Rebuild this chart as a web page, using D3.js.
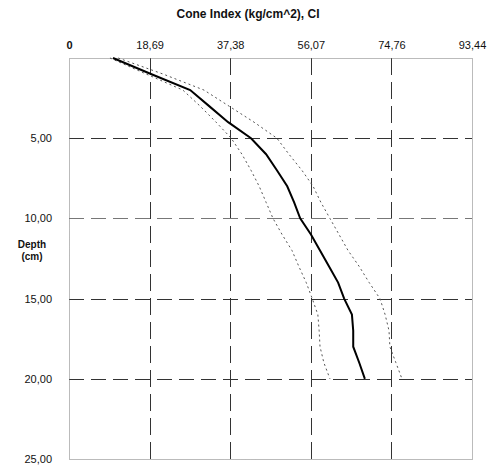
<!DOCTYPE html>
<html>
<head>
<meta charset="utf-8">
<script src="https://cdn.jsdelivr.net/npm/d3@7/dist/d3.min.js"></script>
<style>
  html, body { margin: 0; padding: 0; background: #fff; }
  svg { display: block; }
  text { font-family: "Liberation Sans", Arial, sans-serif; fill: #111; }
</style>
</head>
<body>
<svg id="chart" width="487" height="470"></svg>
<script>
// ---- data ----
const depths = [0,1,2,3,4,5,6,7,8,9,10,11,12,13,14,15,16,17,18,19,20];
const meanCI = [10.2,19.0,28.1,32.5,36.9,42.2,45.7,48.2,50.6,52.2,53.6,56.1,58.2,60.3,62.4,63.8,65.6,65.9,65.9,67.3,68.6];
const upperCI = [11.4,21.8,31.3,37.1,42.9,48.2,51.0,54.0,56.6,58.4,60.5,62.6,64.7,67.3,69.6,72.1,73.3,74.2,74.4,75.8,77.2];
const lowerCI = [9.5,17.9,26.4,30.4,34.1,37.6,40.1,42.2,44.1,45.7,47.3,49.4,51.7,53.3,55.0,56.4,57.7,58.0,58.2,59.1,60.5];
const xTickValues = [0, 18.69, 37.38, 56.07, 74.76, 93.44];
const xTickLabels = ["0", "18,69", "37,38", "56,07", "74,76", "93,44"];
const yTickValues = [5, 10, 15, 20, 25];
const yTickLabels = ["5,00", "10,00", "15,00", "20,00", "25,00"];
const title = "Cone Index (kg/cm^2), CI";
const yTitle = ["Depth", "(cm)"];

// ---- layout ----
const svg = d3.select("#chart");
const L = 69, R = 472, T = 58, B = 459;
const x = d3.scaleLinear().domain([0, 93.44]).range([L, R]);
const y = d3.scaleLinear().domain([0, 25]).range([T, B]);

// grid lines
const g = svg.append("g");
g.selectAll("line.vg").data(xTickValues.slice(1, -1)).join("line")
  .attr("class", "vg")
  .attr("x1", d => Math.round(x(d)) + 0.5).attr("x2", d => Math.round(x(d)) + 0.5)
  .attr("y1", T).attr("y2", B)
  .attr("stroke", "#333").attr("stroke-width", 1).attr("stroke-dasharray", "17,7");
g.selectAll("line.hg").data(yTickValues.slice(0, -1)).join("line")
  .attr("class", "hg")
  .attr("x1", L).attr("x2", R)
  .attr("y1", d => Math.round(y(d)) + 0.5).attr("y2", d => Math.round(y(d)) + 0.5)
  .attr("stroke", d => d === 10 ? "#777" : "#333").attr("stroke-width", 1).attr("stroke-dasharray", "15,7");

// border (dotted)
svg.append("rect")
  .attr("x", L + 0.5).attr("y", T + 0.5).attr("width", R - L).attr("height", B - T)
  .attr("fill", "none").attr("stroke", "#777").attr("stroke-width", 1).attr("stroke-dasharray", "1,1");

// axes text via d3 axes
const xAxis = d3.axisTop(x).tickValues(xTickValues)
  .tickFormat((d, i) => xTickLabels[i]).tickSize(0).tickPadding(0);
const xa = svg.append("g").attr("transform", `translate(0,${49})`).call(xAxis);
xa.select(".domain").remove();
xa.selectAll("text").attr("font-size", 11).attr("font-family", "Liberation Sans, Arial, sans-serif")
  .attr("fill", "#111").attr("dy", 0)
  .attr("font-weight", (d, i) => i === 0 ? "bold" : "normal");

const yAxis = d3.axisLeft(y).tickValues(yTickValues)
  .tickFormat((d, i) => yTickLabels[i]).tickSize(0).tickPadding(17);
const ya = svg.append("g").attr("transform", `translate(${L},0)`).call(yAxis);
ya.select(".domain").remove();
ya.selectAll("text").attr("font-size", 11).attr("font-family", "Liberation Sans, Arial, sans-serif")
  .attr("fill", "#111");

// titles
svg.append("text").attr("x", 248).attr("y", 18).attr("text-anchor", "middle")
  .attr("font-size", 12).attr("font-weight", "bold").text(title);
svg.append("text").attr("x", 32).attr("y", 248).attr("text-anchor", "middle")
  .attr("font-size", 10).attr("font-weight", "bold").text(yTitle[0]);
svg.append("text").attr("x", 32).attr("y", 260).attr("text-anchor", "middle")
  .attr("font-size", 10).attr("font-weight", "bold").text(yTitle[1]);

// curves
const line = d3.line().x(d => x(d[0])).y(d => y(d[1]));
const mk = arr => arr.map((v, i) => [v, depths[i]]);
svg.append("path").datum(mk(upperCI)).attr("d", line)
  .attr("fill", "none").attr("stroke", "#555").attr("stroke-width", 1).attr("stroke-dasharray", "2,3");
svg.append("path").datum(mk(lowerCI)).attr("d", line)
  .attr("fill", "none").attr("stroke", "#555").attr("stroke-width", 1).attr("stroke-dasharray", "2,3");
svg.append("path").datum(mk(meanCI)).attr("d", line)
  .attr("fill", "none").attr("stroke", "#000").attr("stroke-width", 2);
</script>
</body>
</html>
